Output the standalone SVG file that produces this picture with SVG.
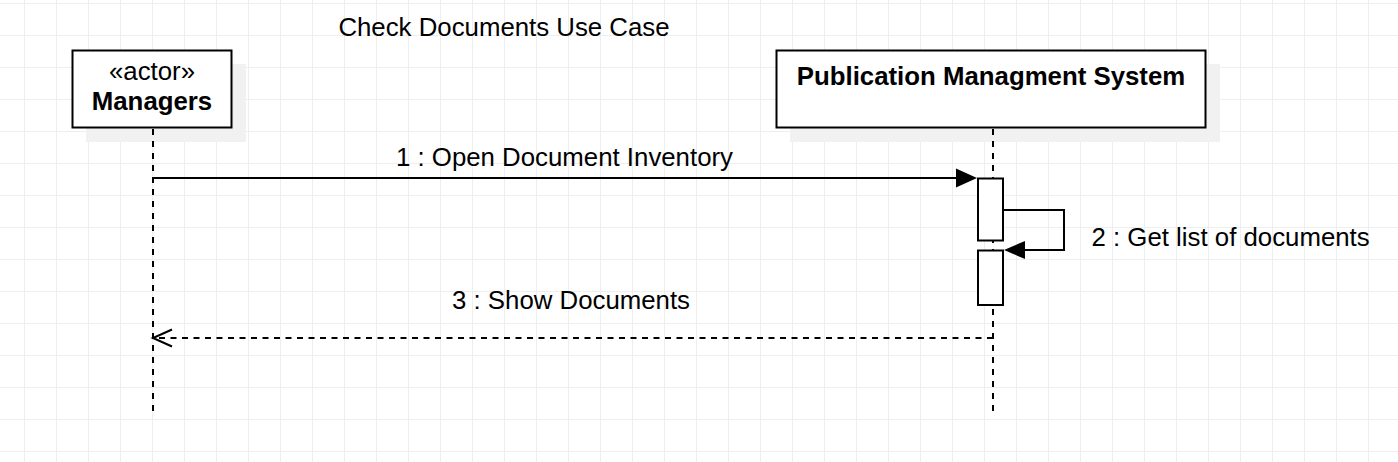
<svg xmlns="http://www.w3.org/2000/svg" width="1398" height="462" viewBox="0 0 1398 462">
<style>
.t{font-family:"Liberation Sans",Arial,sans-serif;font-size:25.8px;fill:#000}
.b{font-weight:bold}
.box{fill:#fff;stroke:#000;stroke-width:2}
.sh{fill:#f1f1f1}
.life{fill:none;stroke:#000;stroke-width:2;stroke-dasharray:6 6}
.ln{fill:none;stroke:#000;stroke-width:2}
.dash{fill:none;stroke:#000;stroke-width:2;stroke-dasharray:6 5.5}
</style>
<defs>
<pattern id="grid" x="24" y="3" width="32" height="32" patternUnits="userSpaceOnUse">
<path d="M0 0.5H32M0.5 0V32" fill="none" stroke="#eeeeee" stroke-width="1"/>
</pattern>
</defs>
<rect width="1398" height="462" fill="#fff"/>
<rect width="1398" height="462" fill="url(#grid)"/>
<text class="t" x="504" y="36" text-anchor="middle">Check Documents Use Case</text>
<g id="managers">
<rect class="sh" x="86" y="64" width="160" height="78"/>
<rect class="box" x="72.5" y="50.5" width="159" height="77"/>
<text class="t" x="152" y="80" text-anchor="middle">«actor»</text>
<text class="t b" x="152" y="110" text-anchor="middle">Managers</text>
</g>
<g id="pms">
<rect class="sh" x="790" y="64" width="430" height="78"/>
<rect class="box" x="776.5" y="50.5" width="429" height="77"/>
<text class="t b" x="991" y="85" text-anchor="middle">Publication Managment System</text>
</g>
<g id="lifelines">
<line class="life" x1="153" y1="129" x2="153" y2="411"/>
<line class="life" x1="993" y1="129" x2="993" y2="411"/>
</g>
<g id="activation1">
<rect class="box" x="978" y="178.5" width="25" height="62"/>
</g>
<g id="activation2">
<rect class="box" x="978" y="250.5" width="25" height="54.5"/>
</g>
<g id="connectors">
<line class="ln" x1="153" y1="178" x2="958" y2="178"/>
<polygon points="977,178 956,168.5 956,187.5" fill="#000"/>
<text class="t" x="564.5" y="166" text-anchor="middle">1 : Open Document Inventory</text>
<path class="ln" d="M1004 210H1064V250H1023"/>
<polygon points="1004,250 1025,241 1025,259" fill="#000"/>
<text class="t" x="1091.5" y="246">2 : Get list of documents</text>
<line class="dash" x1="993" y1="338" x2="155" y2="338"/>
<polyline class="ln" points="172,329.5 153,338 172,346.5"/>
<text class="t" x="571" y="309" text-anchor="middle">3 : Show Documents</text>
</g>
</svg>
